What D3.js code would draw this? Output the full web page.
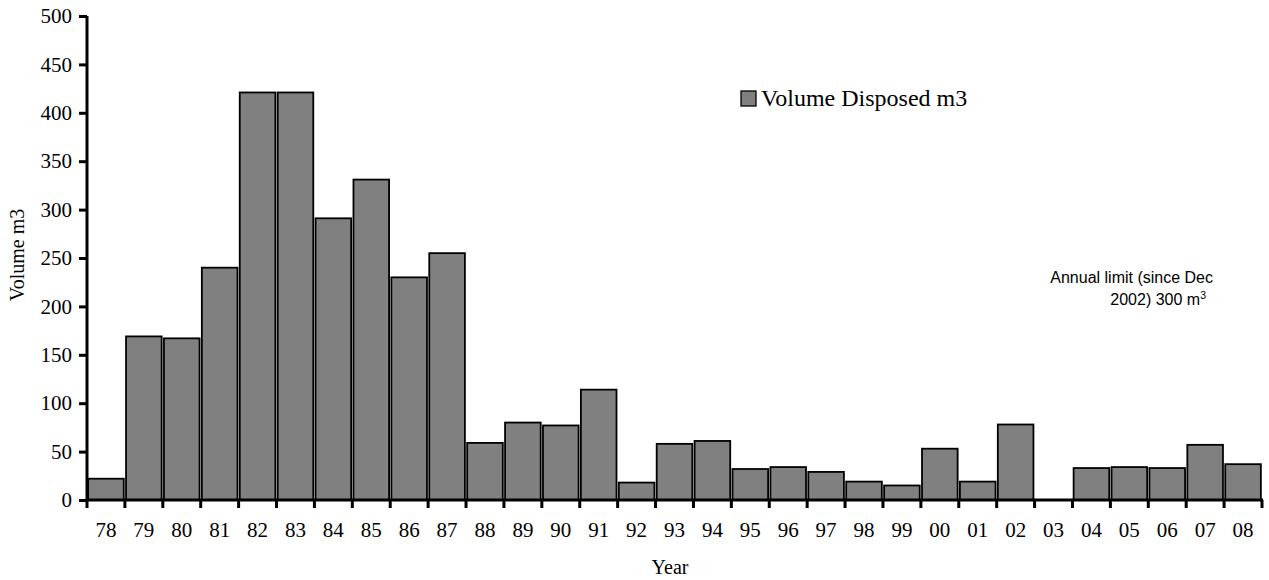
<!DOCTYPE html>
<html><head><meta charset="utf-8">
<script src="https://cdn.jsdelivr.net/npm/d3@7"></script>
<style>body{margin:0;background:#fff}svg{display:block}</style>
</head><body>
<svg id="c" width="1269" height="580"></svg>
<script>
const years = ["78","79","80","81","82","83","84","85","86","87","88","89","90","91","92","93","94","95","96","97","98","99","00","01","02","03","04","05","06","07","08"];
const volumes = [22,169,167,240,421,421,291,331,230,255,59,80,77,114,18,58,61,32,34,29,19,15,53,19,78,0,33,34,33,57,37];
const yTicks = [0,50,100,150,200,250,300,350,400,450,500];
const seriesName = "Volume Disposed m3";

(function(){
const svg = d3.select("#c");
const mL = 87, mR = 1262, mT = 16, mB = 500;
const x = d3.scaleBand().domain(years).range([mL, mR]).paddingInner(0.06).paddingOuter(0.03);
const xEdge = d3.scaleBand().domain(years).range([mL, mR]).padding(0);
const y = d3.scaleLinear().domain([0, 500]).range([mB, mT]);
const serif = "'Liberation Serif','Times New Roman',serif";

svg.append("g").selectAll("rect").data(years).join("rect")
  .attr("x", d => x(d)).attr("width", x.bandwidth())
  .attr("y", (d,i) => y(volumes[i])).attr("height", (d,i) => y(0) - y(volumes[i]))
  .attr("fill", "#808080").attr("stroke", "#000").attr("stroke-width", 1.8);

// y axis
const ya = svg.append("g").attr("transform", `translate(${mL},0)`)
  .call(d3.axisLeft(y).tickValues(yTicks).tickSize(8).tickPadding(7));
ya.select(".domain").attr("stroke-width", 3).attr("d", `M0,${mT}V${mB + 1}`);
ya.selectAll(".tick line").attr("stroke-width", 3);
ya.selectAll("text").attr("font-family", serif).attr("font-size", 21).attr("fill", "#000");

// x axis
const xa = svg.append("g").attr("transform", `translate(0,${mB})`)
  .call(d3.axisBottom(xEdge).tickSize(0).tickPadding(22));
xa.select(".domain").attr("stroke-width", 3).attr("d", `M${mL},0H${mR + 1}`);
xa.selectAll("text").attr("font-family", serif).attr("font-size", 21).attr("fill", "#000");
svg.append("g").selectAll("line").data(years.concat(["end"])).join("line")
  .attr("x1", (d,i) => i < years.length ? xEdge(d) : mR)
  .attr("x2", (d,i) => i < years.length ? xEdge(d) : mR)
  .attr("y1", mB).attr("y2", mB + 8)
  .attr("stroke", "#000").attr("stroke-width", 3);

// axis titles
svg.append("text").attr("x", 670).attr("y", 574).attr("text-anchor", "middle")
  .attr("font-family", serif).attr("font-size", 20).text("Year");
svg.append("text").attr("transform", "translate(24,255) rotate(-90)").attr("text-anchor", "middle")
  .attr("font-family", serif).attr("font-size", 20).text("Volume m3");

// legend
svg.append("rect").attr("x", 741).attr("y", 91).attr("width", 15).attr("height", 15)
  .attr("fill", "#808080").attr("stroke", "#000").attr("stroke-width", 1.3);
svg.append("text").attr("x", 761).attr("y", 106).attr("font-family", serif).attr("font-size", 24).text(seriesName);

// annotation
const sans = "'Liberation Sans',Arial,sans-serif";
svg.append("text").attr("x", 1213).attr("y", 283).attr("text-anchor", "end")
  .attr("font-family", sans).attr("font-size", 16).text("Annual limit (since Dec");
const t2 = svg.append("text").attr("x", 1206).attr("y", 305).attr("text-anchor", "end")
  .attr("font-family", sans).attr("font-size", 16);
t2.append("tspan").text("2002) 300 m");
t2.append("tspan").attr("dy", -6).attr("font-size", 10.5).text("3");
})();
</script>
</body></html>
